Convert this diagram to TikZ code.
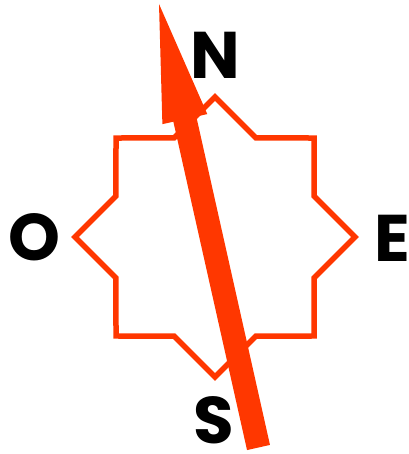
\documentclass[tikz,border=0pt]{standalone}
\usepackage{fontspec}
\setmainfont{Poppins}
\usetikzlibrary{calc}
\definecolor{compassred}{RGB}{255,55,0}

\begin{document}
\begin{tikzpicture}[x=1pt,y=-1pt,
    letter/.style={font=\fontsize{66}{66}\selectfont\bfseries,inner sep=0pt,text=black},
    starline/.style={draw=compassred,line width=5.5pt,line join=miter}]
  \useasboundingbox (0,0) rectangle (408,454);
  % Centre of the star
  \coordinate (c) at (215,237);

  % Eight-pointed star
  \draw[starline] (c) ++(0:140)
    \foreach \a in {1,...,15} {
      -- ($(c)+(\a*22.5:{mod(\a,2)==0 ? 140 : 107.2})$)
    } -- cycle;

  % Cardinal letters
  \node[letter] (N) at (215,55)  {N};
  \node[letter] (O) at (34,237)  {O};
  \node[letter] (E) at (392,238) {E};
  \node[letter] (S) at (214,420) {S};

  % Needle
  \coordinate (tail) at (258.5,447.5);
  \coordinate (tip)  at (159,4);
  \coordinate (base) at ($(tip)!118pt!(tail)$);
  \coordinate (barbL) at ($(base)!23pt!90:(tip)$);
  \coordinate (barbR) at ($(base)!23pt!-90:(tip)$);
  \draw[compassred,line width=23.5pt] (tail) -- ($(base)!-1pt!(tail)$);
  \fill[compassred] (tip) -- (barbL) -- (barbR) -- cycle;
\end{tikzpicture}
\end{document}
